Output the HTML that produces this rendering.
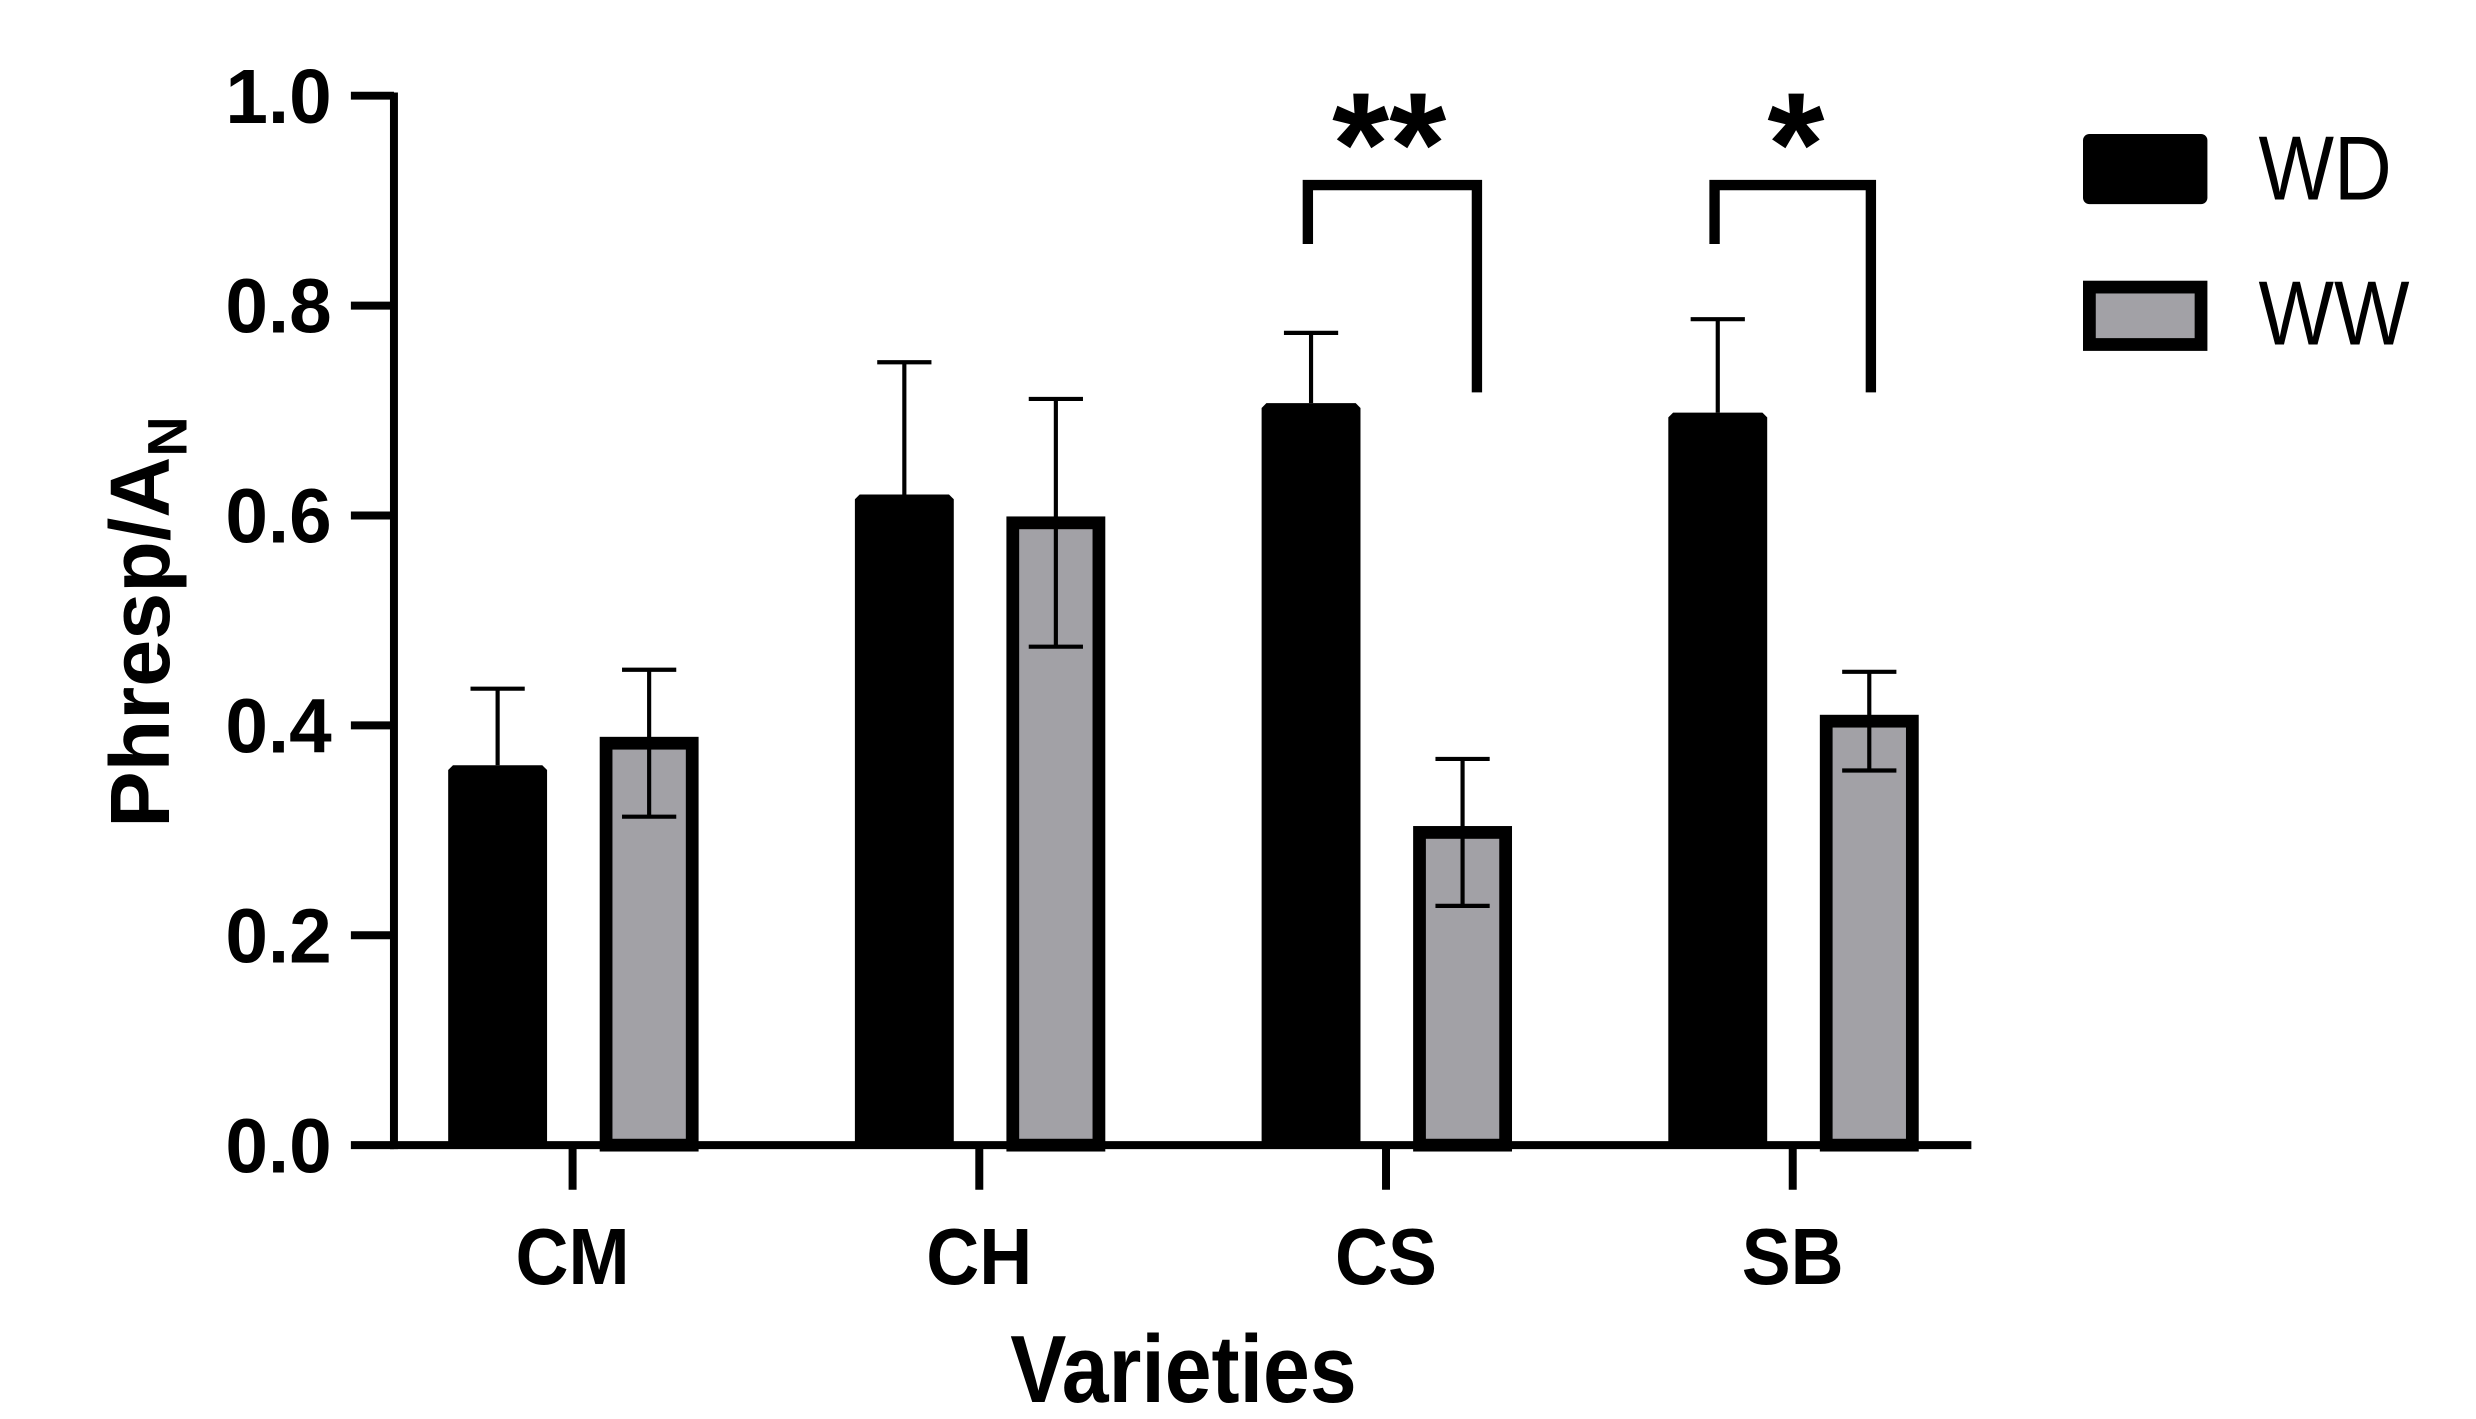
<!DOCTYPE html>
<html><head><meta charset="utf-8"><style>
html,body{margin:0;padding:0;background:#fff;}
svg{display:block;}
text{font-family:"Liberation Sans",Arial,sans-serif;fill:#000;}
</style></head><body>
<svg id="chart" width="2476" height="1419" viewBox="0 0 1552.4 889.7" preserveAspectRatio="none" xmlns="http://www.w3.org/2000/svg">
<g id="axes"></g>
<g id="bars"></g>
<g id="annot"></g>
</svg>
<script>
const categories = ["CM","CH","CS","SB"];
const wdMeans = [0.362, 0.62, 0.707, 0.698];
const wdErr = [0.073, 0.126, 0.067, 0.089];
const wwMeans = [0.383, 0.593, 0.298, 0.404];
const wwErr = [0.07, 0.118, 0.07, 0.047];
const yTicks = [0, 0.2, 0.4, 0.6, 0.8, 1.0];
const yTickLabels = ["0.0","0.2","0.4","0.6","0.8","1.0"];
const sigLabels = ["", "", "**", "*"];

const NS = "http://www.w3.org/2000/svg";
const x0 = 247, yBase = 718, yTop = 60;
const y = v => yBase - v * (yBase - yTop);
const catX = i => 359 + i * 255;
function mk(tag, attrs, parent){const e=document.createElementNS(NS,tag);for(const k in attrs)e.setAttribute(k,attrs[k]);parent.appendChild(e);return e;}
const axes=document.getElementById('axes'), bars=document.getElementById('bars'), annot=document.getElementById('annot');

categories.forEach((c,i)=>{
  const cx=catX(i);
  const wx=cx-47, bw=62;
  const b1=mk('path',{d:`M${wx-bw/2},${yBase} L${wx-bw/2},${y(wdMeans[i])+3} L${wx-bw/2+3},${y(wdMeans[i])} L${wx+bw/2-3},${y(wdMeans[i])} L${wx+bw/2},${y(wdMeans[i])+3} L${wx+bw/2},${yBase} Z`,fill:'#000'},bars);
  
  
  const e1=mk('path',{d:`M${wx},${y(wdMeans[i])} L${wx},${y(wdMeans[i]+wdErr[i])} M${wx-17},${y(wdMeans[i]+wdErr[i])} L${wx+17},${y(wdMeans[i]+wdErr[i])}`,stroke:'#000','stroke-width':2.6,fill:'none'},bars);
  
  
  const gx=cx+48, gw=54;
  const top=y(wwMeans[i]);
  const b2=mk('rect',{x:gx-gw/2,y:top,width:gw,height:yBase-top,fill:'#a2a1a6',stroke:'#000','stroke-width':8},bars);
  
  
  const e2=mk('path',{d:`M${gx},${y(wwMeans[i]+wwErr[i])} L${gx},${y(wwMeans[i]-wwErr[i])} M${gx-17},${y(wwMeans[i]+wwErr[i])} L${gx+17},${y(wwMeans[i]+wwErr[i])} M${gx-17},${y(wwMeans[i]-wwErr[i])} L${gx+17},${y(wwMeans[i]-wwErr[i])}`,stroke:'#000','stroke-width':2.6,fill:'none'},bars);
  
  
  const t=mk('line',{x1:cx,y1:yBase,x2:cx,y2:746,stroke:'#000','stroke-width':5},axes);
  
  
  const tl=mk('text',{x:cx,y:805,'text-anchor':'middle','font-size':50,'font-weight':'bold',transform:`translate(${cx},0) scale(0.92,1) translate(${-cx},0)`},axes);
  tl.textContent=c;
  
  
  if(sigLabels[i]){
    const bx1=cx-49, bx2=cx+(sigLabels[i].length>1?57:49);
    const br=mk('path',{d:`M${bx1},${153} L${bx1},${116} L${bx2},${116} L${bx2},${246}`,stroke:'#000','stroke-width':6.5,fill:'none','stroke-linejoin':'miter'},annot);
    
    
    const st=mk('text',{x:cx+2,y:122,'text-anchor':'middle','font-size':92,'font-weight':'bold'},annot);
    st.textContent=sigLabels[i];
    
    
  }
});

const ya=mk('line',{x1:x0,y1:yTop-2,x2:x0,y2:yBase+2.5,stroke:'#000','stroke-width':5},axes);


const xa=mk('line',{x1:x0-2.5,y1:yBase,x2:1236,y2:yBase,stroke:'#000','stroke-width':5},axes);


yTicks.forEach((v,i)=>{
  const t=mk('line',{x1:220,y1:y(v),x2:x0,y2:y(v),stroke:'#000','stroke-width':5},axes);
  
  
  const l=mk('text',{x:208,y:y(v)+17,'text-anchor':'end','font-size':48,'font-weight':'bold'},axes);
  l.textContent=yTickLabels[i];
  
  
});
</script>
<script>
(function(){
const NS="http://www.w3.org/2000/svg";
const svg=document.getElementById('chart');
function mk(tag, attrs){const e=document.createElementNS(NS,tag);for(const k in attrs)e.setAttribute(k,attrs[k]);svg.appendChild(e);return e;}
const xt=mk('text',{x:742,y:879,'text-anchor':'middle','font-size':60,'font-weight':'bold',transform:'translate(742,0) scale(0.88,1) translate(-742,0)'});
xt.textContent='Varieties';


const yt=mk('text',{x:0,y:0,'text-anchor':'middle','font-size':53,'font-weight':'bold',transform:'translate(106,390) rotate(-90)'});
yt.innerHTML='Phresp/A<tspan font-size="35" dy="11">N</tspan>';


const g=mk('g',{});


const r1=document.createElementNS(NS,'rect');
[['x',1306],['y',84],['width',78],['height',44],['rx',4],['fill','#000']].forEach(a=>r1.setAttribute(a[0],a[1]));


g.appendChild(r1);
const r2=document.createElementNS(NS,'rect');
[['x',1310],['y',180],['width',70],['height',36],['fill','#a2a1a6'],['stroke','#000'],['stroke-width',8]].forEach(a=>r2.setAttribute(a[0],a[1]));


g.appendChild(r2);
[['WD',125],['WW',216]].forEach(p=>{
  const t=document.createElementNS(NS,'text');
  t.setAttribute('x',1416);t.setAttribute('y',p[1]);t.setAttribute('font-size',57);
  t.setAttribute('transform','translate(1416,0) scale(0.88,1) translate(-1416,0)');
  t.textContent=p[0];
  
  
  g.appendChild(t);
});
})();
</script>
</body></html>
